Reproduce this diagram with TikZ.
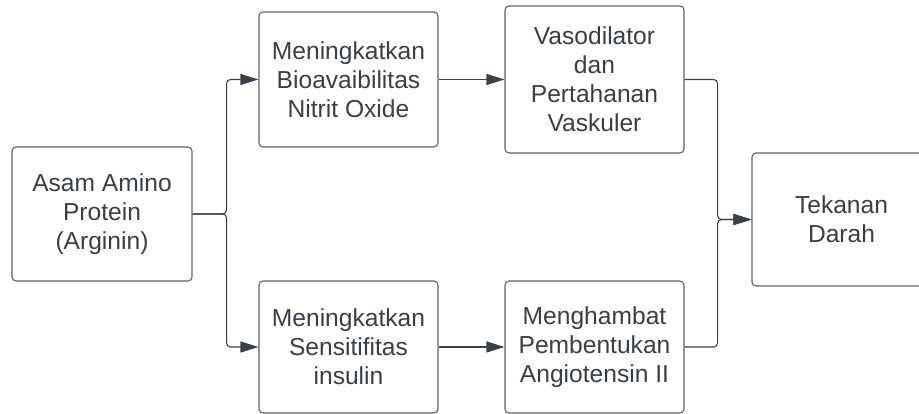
\documentclass[tikz,border=0pt]{standalone}
\usepackage{fontspec}
\setmainfont{Liberation Sans}
\usetikzlibrary{arrows.meta}
\definecolor{txt}{HTML}{3A3F47}
\definecolor{brd}{HTML}{5F6368}
\definecolor{lnk}{HTML}{3A414A}
\begin{document}
\begin{tikzpicture}[x=1pt,y=1pt,
  box/.style={draw=brd,line width=1.1pt,rounded corners=4pt,fill=white,text=txt,
    align=center,inner sep=0pt,font=\fontsize{24.6}{29}\selectfont},
  link/.style={draw=lnk,line width=1.1pt,rounded corners=4pt,
    -{Triangle[length=18pt,width=11pt]}}]
\useasboundingbox (0,0) rectangle (919,414);
\clip (0,0) rectangle (919,414);
\node[box,minimum width=180pt,minimum height=134pt] (a) at (102,200) {Asam Amino\\Protein\\(Arginin)};
\node[box,minimum width=179pt,minimum height=135pt] (b) at (348.5,334.5) {Meningkatkan\\Bioavaibilitas\\Nitrit Oxide};
\node[box,minimum width=179pt,minimum height=132pt] (c) at (348.5,67) {Meningkatkan\\Sensitifitas\\insulin};
\node[box,minimum width=179pt,minimum height=147pt] (d) at (594.5,334.5) {Vasodilator\\dan\\Pertahanan\\Vaskuler};
\node[box,minimum width=179pt,minimum height=132pt] (e) at (594.5,67) {Menghambat\\Pembentukan\\Angiotensin II};
\node[box,minimum width=179pt,minimum height=133pt] (f) at (841.5,194.5) {Tekanan\\Darah};
\draw[link] (a.east) -- ++(34,0) |- (b.west);
\draw[link] (a.east) -- ++(34,0) |- (c.west);
\draw[link] (b.east) -- (d.west);
\draw[link] (c.east) -- (e.west);
\draw[link] (d.east) -- ++(33,0) |- (f.west);
\draw[link] (e.east) -- ++(33,0) |- (f.west);
\end{tikzpicture}
\end{document}
